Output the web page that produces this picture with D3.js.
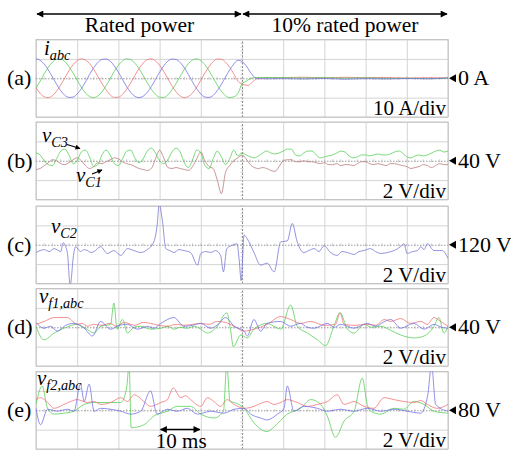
<!DOCTYPE html>
<html>
<head>
<meta charset="utf-8">
<script src="https://cdn.jsdelivr.net/npm/d3@7"></script>
</head>
<body style="margin:0">
<svg id="chart" width="511" height="452" style="font-family: 'Liberation Serif', serif"></svg>
<script>
// time axis: 10 ms/div, 10 divisions; load step at 50 ms
const gridTimes = [0, 10, 20, 30, 40, 50, 60, 70, 80, 90, 100];
const sampleTimes = d3.range(0, 101);       // 1 ms samples used by panel (b)
const ratedTimes = d3.range(0, 51);         // 1 ms samples for the rated-power currents

// (a) grid currents, A (rated part every 1 ms, then reduced-power part as [ms, A])
const iaRated = [10,9.3,7.3,4.3,0.6,-3.1,-6.4,-8.8,-9.9,-9.7,-8.1,-5.4,-1.9,1.9,5.4,8.1,9.7,9.9,8.8,6.4,3.1,-0.6,-4.3,-7.3,-9.3,-10,
  -9.3,-7.3,-4.3,-0.6,3.1,6.4,8.8,9.9,9.7,8.1,5.4,1.9,-1.9,-5.4,-8.1,-9.7,-9.9,-8.8,-6.4,-3.1,0.6,4.3,7.3,9.3,8.6];
const ibRated = [-5,-7.8,-9.6,-10,-9,-6.7,-3.5,0.2,3.9,7,9.1,10,9.4,7.6,4.6,1,-2.7,-6,-8.6,-9.9,-9.8,-8.3,-5.7,-2.3,1.5,5,
  7.8,9.6,10,9,6.7,3.5,-0.2,-3.9,-7,-9.1,-10,-9.4,-7.6,-4.6,-1,2.7,6,8.6,9.9,9.8,8.3,5.7,2.3,-1.5,-3];
const icRated = [-5,-1.5,2.3,5.7,8.3,9.8,9.9,8.6,6,2.7,-1,-4.6,-7.6,-9.4,-10,-9.1,-7,-3.9,-0.2,3.5,6.7,9,10,9.6,7.8,5,
  1.5,-2.3,-5.7,-8.3,-9.8,-9.9,-8.6,-6,-2.7,1,4.6,7.6,9.4,10,9.1,7,3.9,0.2,-3.5,-6.7,-9,-10,-9.6,-7.8,-3];
const iaLight = [[51,6.5],[52,3.2],[53,0.6],[54,-0.2],[56,-0.3],[60,-0.2],[65,-0.4],[70,-0.1],[75,-0.5],[80,-0.2],[85,-0.4],[90,-0.1],[95,-0.3],[100,0.2]];
const ibLight = [[51,-3.6],[51.5,-3.7],[52.5,-2],[53.5,-0.4],[55,0.2],[60,0.3],[65,0.5],[70,0.2],[75,0.5],[80,0.3],[85,0.4],[90,0.1],[95,0.3],[100,0.2]];
const icLight = [[51,-1.5],[52,-0.2],[53,0.3],[55,0.4],[60,0.3],[65,0.1],[70,0.3],[75,0],[80,0.2],[85,-0.1],[90,0],[95,-0.2],[100,0]];

// (b) capacitor voltage ripple around 40 V, V (every 1 ms)
const vC3 = [0.8,0.6,0,-0.4,-0.5,0.2,1,1.2,0.6,-0.3,0,0.9,1.1,0.4,-0.6,-0.4,0.6,1.1,0.6,-0.3,-0.5,0.2,1,1.1,0.3,-0.2,0.2,1,1.3,0.8,
  0,-0.3,0.1,0.9,1.3,0.9,-0.2,-0.7,0.1,1.1,0.8,-0.5,-0.8,0.2,1,0.4,-0.4,0.2,1.1,0.5,0.8,
  0.6,0.4,0.3,0.5,0.8,1,0.8,0.7,0.8,1,1.2,1.2,0.6,0.5,0.8,1,1,0.6,0.3,0.4,0.5,0.6,0.8,1,0.9,
  0.5,0.3,0.4,0.6,0.6,0.5,0.6,0.7,0.6,0.6,0.7,0.9,1,0.8,0.4,0.3,0.5,0.6,0.5,0.6,0.8,1,1.1,0.9,1];
const vC1 = [-0.9,-0.8,-0.5,-0.2,0.1,0,-0.3,-0.4,-0.2,0.1,0.3,0,-0.5,-0.8,-0.6,-0.2,-0.3,-0.1,0.1,0.3,
  0.2,-0.1,-0.3,-0.4,-0.6,-0.8,-0.9,-1,-0.8,0.2,1.1,0.3,-0.7,-0.8,-0.7,-0.8,-0.9,-1,-0.6,0.2,
  0.9,0,-0.6,-0.8,-2,-3.4,-1.2,-0.5,0,0.3,0.6,
  0.2,-0.4,-0.7,-0.8,-0.7,-0.8,-1,-1.1,-0.6,0,0.1,0.1,-0.1,-0.1,0,-0.1,-0.1,-0.2,-0.3,-0.2,
  -0.4,-0.4,-0.3,-0.5,-0.4,-0.4,-0.5,-0.3,-0.1,-0.1,-0.3,-0.4,-0.3,-0.4,-0.5,-0.3,-0.3,-0.4,-0.5,-0.6,
  -0.8,-0.7,-0.6,-0.4,-0.5,-0.7,-0.5,-0.3,-0.4,-0.4];

// (c) vC2 ripple around 120 V, [ms, V]
const vC2 = [[0,-0.8],[1,-0.6],[2,-0.5],[3.2,-0.7],[4.4,-0.4],[6,-0.7],[6.6,0.2],[7.6,-0.8],[8.3,-4.2],[9.1,-1.1],[9.6,-0.2],
  [10.8,-0.7],[11.7,-0.5],[12.5,-0.6],[13.3,-0.8],[14.1,-0.7],[15.7,-0.2],[17.3,-0.9],[18.9,-0.6],[20.6,-1.1],[22.2,-0.4],
  [23.8,-0.6],[25.4,-0.8],[27,-0.5],[28.6,0.3],[29.4,2],[29.9,4.2],[30.7,2.4],[31.5,-0.4],[32.5,-0.6],[33.5,-0.8],[34.7,-0.5],
  [35.9,-0.6],[37.5,-0.8],[39.2,-2.1],[40,-0.9],[41.2,-0.7],[42.4,-0.8],[43.6,-0.6],[44.8,-1.1],[45.5,-2.8],[46.3,-0.4],
  [48,0],[48.8,0.1],[49.3,-1.5],[49.8,-3.7],[50.5,1],[51.3,0.6],[52.9,-0.8],[54.5,-2.1],[56.1,-1.9],[57.8,-2.8],[59.4,0.3],
  [61,0.4],[62.2,2.2],[63.4,0.3],[65,-0.8],[66.2,-0.6],[67.5,-0.4],[68.7,-0.7],[69.9,-0.1],[71.5,-0.8],[73.1,-1.1],
  [74.3,-0.7],[75.6,-0.8],[77.2,-1],[78.4,-0.7],[79.6,-0.6],[81.2,-0.4],[82.4,-0.7],[83.7,-0.9],[85.3,-0.8],[86.9,-0.6],
  [88.5,-0.2],[89.3,0.1],[90.1,-0.9],[91.4,-0.7],[92.6,-0.6],[93.4,-0.2],[94.2,-0.5],[95,0.1],[96.6,-0.6],[98.6,-0.6],[100,-1.4]];

// (d) filter-1 voltages around 40 V, [ms, V]
const vf1a = [[0,0.3],[2,0.6],[4.4,1],[7.6,1],[10,0.3],[11.2,0.4],[12.5,0.1],[14,0.3],[15.7,0.2],[18,0.4],[19.5,0.1],[21.4,0.5],
  [24,0.2],[26,0.5],[27.8,0.4],[29.8,0.2],[31.9,0.1],[34,0.3],[35.9,0.2],[38,0.3],[40,0.4],[42,0.3],[44,0.6],[46,0.5],
  [48.1,0.1],[50.5,-0.4],[52.9,-0.2],[56.1,0.3],[59.4,1.1],[61.8,0.8],[64.2,0.4],[66.7,0.6],[69.9,0.2],[72.7,0.3],[73.8,1.5],
  [74.8,0.3],[77.2,0.2],[80.4,0.3],[82.5,0.2],[84.5,0.8],[86.1,0.6],[88.5,0.9],[90.9,0.4],[93.4,0.6],[95,0.3],[96.6,1],
  [98.2,0.6],[100,0.1]];
const vf1b = [[0,0.1],[1.9,-1.3],[4.4,-0.6],[6.8,-0.1],[10,0.3],[12,-0.1],[14.1,-0.6],[15.7,0.1],[18.1,0.3],[18.9,2.5],[19.7,-0.2],
  [21,0.8],[22.2,-0.6],[23.8,0],[25.4,0.1],[27.8,-0.2],[30.3,-0.1],[32,0.1],[33.5,-0.2],[35,0],[36.7,-0.1],[38.4,0.1],[40,-0.2],
  [41.6,-0.6],[44,0.1],[46.3,1.5],[47.2,-0.2],[47.9,-2],[49.7,-0.8],[51.3,-1.1],[52.9,-0.2],[56.1,0.4],[59.4,-0.2],[61.8,2.3],
  [63.4,0.1],[65.9,-0.6],[68.3,-1.3],[70.3,-1.9],[72.3,0.1],[73.8,1.5],[75.6,-0.2],[77.2,-0.6],[79.6,0.3],[81.5,0],[83.7,0.1],
  [86,-0.3],[88.5,-0.8],[91.7,-1.1],[94.2,-0.9],[96.6,0.1],[97.8,1],[99,-0.6],[100,0.1]];
const vf1c = [[0,0.5],[1.9,-0.1],[3.5,0.1],[5.2,-0.4],[7.2,0.2],[9.2,0.4],[11.7,-0.1],[13.7,-0.9],[15.7,0.6],[18.1,-0.2],
  [20.2,0.2],[22.2,0.3],[24.6,-0.2],[27,0.1],[28.6,-0.1],[30.3,0.4],[33.5,1],[35.9,0.1],[38,0.2],[40,0.4],[42.4,-0.1],
  [44.2,0.3],[46,1],[48.1,0.1],[50.5,-0.4],[51.3,-0.9],[52.9,0.8],[54.5,-0.4],[56.1,0.4],[59.4,0.6],[61.8,0.1],[64.2,0.4],
  [65.8,0],[67.5,-0.1],[70.7,0.4],[72.4,0],[73.9,0.3],[77.2,-0.1],[80.4,0.4],[82.5,0.1],[84.2,0.5],[86.1,0.8],[88.5,-0.1],
  [91.7,0.4],[94.2,-0.2],[96.6,0.3],[98.4,0],[100,-0.1]];

// (e) filter-2 voltages around 80 V, [ms, V]
const vf2a = [[0,1.1],[1.1,1.3],[2.8,0.8],[4.4,0.2],[6.8,0.6],[8.4,0.9],[10,1.1],[12.5,0.8],[14.1,0.9],[15.7,0.6],[18.1,0.8],
  [20.6,1.3],[22.2,0.9],[23.8,1.6],[26.2,0.9],[27.8,0.4],[30.3,0.8],[31.9,1.1],[33.3,2.3],[35.1,1.3],[36.3,1.5],[37.5,1.1],
  [40,0.4],[41.6,1.3],[43.2,0.9],[44.8,0.4],[46.4,1.1],[48.1,0.6],[50.5,0.2],[52.9,0.4],[54.5,0.7],[56.1,0.9],[57.8,0.6],
  [59.4,0.8],[61,1.1],[63.4,0.8],[65.9,0.4],[68.3,0.6],[70.7,0.9],[73.1,1.6],[74.8,0.6],[77.2,0.9],[79.6,0.4],[82,0.2],
  [84.5,1.3],[86.9,1.1],[89.3,0.9],[91.7,0.8],[93.4,1],[95,0.6],[97.4,0.2],[100,0.6]];
const vf2b = [[0,0.6],[1.5,2.5],[2.8,0.2],[4.4,-0.4],[6.8,-0.3],[9.2,-0.1],[11.7,0.6],[14.1,0.8],[17.3,0.8],[20.6,0.8],[22,2.3],
  [22.6,4.7],[23.1,-1.8],[26.2,-1.5],[28.6,-0.6],[31.9,-0.1],[34.3,0.4],[37.5,0.4],[40,-0.4],[43.2,-0.8],[45.5,-0.1],
  [46.3,4.7],[47.1,0.9],[48.1,0.8],[50.5,0.2],[52.9,-1.3],[56.1,-2.2],[57.8,-1.7],[61,-0.4],[64.2,0.2],[66.7,1.1],[69.1,0.6],
  [70.7,-0.6],[72.7,-2.8],[74.8,-1.1],[77.2,-0.1],[79.2,3.3],[80.4,0.6],[81.2,-0.1],[83.7,-0.4],[86.9,0.2],[89.3,0.1],
  [91.7,0.9],[94.2,0.6],[96.6,-0.1],[100,-0.3]];
const vf2c = [[0,0.2],[1.1,-1.5],[2.8,0.1],[5.2,-0.1],[7.6,0.1],[9.2,-0.1],[10.8,2.7],[11.7,0.9],[12.9,2.7],[14.1,-0.1],
  [15.7,0.2],[18.1,0.1],[20.6,-0.1],[23,-0.4],[25.4,-0.1],[27.8,2],[29.4,-0.4],[31.9,0.1],[34.3,-0.1],[36.7,0.2],[39.2,-0.4],
  [42.4,-0.1],[45.6,-0.3],[48.1,0.1],[50.5,0.2],[52.1,-0.4],[54.5,-0.8],[56.1,-1],[58.6,-0.4],[60.2,0.2],[61,2.5],[62.6,-0.1],
  [65,0.4],[68.3,0.2],[70.7,-0.1],[73.9,0.1],[77.2,-0.1],[80.4,0.2],[83.7,-0.1],[86.9,0.1],[90.1,-0.1],[93.4,-0.3],[95.1,1.6],
  [96,4.7],[97,0.6],[100,-0.1]];

const RED = '#f07070', GREEN = '#52cf52', BLUE = '#6e6ee6';
const SERIF = "'Liberation Serif', serif";

const panels = [
  { letter: '(a)', perDiv: 10, ref: '0 A', scale: '10 A/div', traces: [
      { color: RED, data: ibRated.map((v, i) => [ratedTimes[i], v]).concat(ibLight) },
      { color: GREEN, data: icRated.map((v, i) => [ratedTimes[i], v]).concat(icLight) },
      { color: BLUE, data: iaRated.map((v, i) => [ratedTimes[i], v]).concat(iaLight) } ] },
  { letter: '(b)', perDiv: 2, ref: '40 V', scale: '2 V/div', traces: [
      { color: '#b87878', data: vC1.map((v, i) => [sampleTimes[i], v]) },
      { color: GREEN, data: vC3.map((v, i) => [sampleTimes[i], v]) } ] },
  { letter: '(c)', perDiv: 2, ref: '120 V', scale: '2 V/div', traces: [
      { color: '#7272d2', data: vC2 } ] },
  { letter: '(d)', perDiv: 2, ref: '40 V', scale: '2 V/div', traces: [
      { color: GREEN, data: vf1b }, { color: RED, data: vf1a }, { color: BLUE, data: vf1c } ] },
  { letter: '(e)', perDiv: 2, ref: '80 V', scale: '2 V/div', traces: [
      { color: GREEN, data: vf2b }, { color: RED, data: vf2a }, { color: BLUE, data: vf2c } ] }
];

const svg = d3.select('#chart');
const x = d3.scaleLinear().domain([0, 100]).range([36, 448]);
const panelTop = [39.5, 122, 206, 288.5, 371.5];
const panelH = 77.5;

const defs = svg.append('defs');
defs.append('marker').attr('id', 'head').attr('viewBox', '0 0 10 10')
  .attr('refX', 9).attr('refY', 5).attr('markerWidth', 9).attr('markerHeight', 7)
  .attr('markerUnits', 'userSpaceOnUse').attr('orient', 'auto-start-reverse')
  .append('path').attr('d', 'M0,0 L10,5 L0,10 z').attr('fill', '#000');
defs.append('marker').attr('id', 'small').attr('viewBox', '0 0 10 10')
  .attr('refX', 9).attr('refY', 5).attr('markerWidth', 7).attr('markerHeight', 5)
  .attr('markerUnits', 'userSpaceOnUse').attr('orient', 'auto')
  .append('path').attr('d', 'M0,0 L10,5 L0,10 z').attr('fill', '#000');

function arrow(x1, y1, x2, y2, both, w) {
  const l = svg.append('line').attr('x1', x1).attr('y1', y1).attr('x2', x2).attr('y2', y2)
    .attr('stroke', '#000').attr('stroke-width', w);
  if (both) l.attr('marker-start', 'url(#head)').attr('marker-end', 'url(#head)');
  else l.attr('marker-end', 'url(#small)');
}

function txt(px, py, s, size, anchor) {
  return svg.append('text').attr('x', px).attr('y', py).attr('font-size', size)
    .attr('text-anchor', anchor || 'start').style('font-family', SERIF).text(s);
}

// header
arrow(x(0) + 1, 14, x(50) - 1, 14, true, 1.6);
arrow(x(50) + 1, 14, x(100) - 1, 14, true, 1.6);
txt((x(0) + x(50)) / 2 + 0.5, 32, 'Rated power', 21.5, 'middle');
txt((x(50) + x(100)) / 2, 32, '10% rated power', 21.5, 'middle');

panels.forEach((p, k) => {
  const top = panelTop[k];
  const y = d3.scaleLinear().domain([-2 * p.perDiv, 2 * p.perDiv]).range([top + panelH, top]);
  const g = svg.append('g');

  defs.append('clipPath').attr('id', 'clip' + k).append('rect')
    .attr('x', x(0)).attr('y', top).attr('width', x(100) - x(0)).attr('height', panelH);

  // grid through axes
  const vg = g.append('g').attr('transform', `translate(0,${top + panelH})`)
    .call(d3.axisBottom(x).tickValues(gridTimes).tickSize(-panelH).tickFormat(''));
  const hg = g.append('g').attr('transform', `translate(${x(0)},0)`)
    .call(d3.axisLeft(y).tickValues([-2, -1, 0, 1, 2].map(d => d * p.perDiv))
      .tickSize(-(x(100) - x(0))).tickFormat(''));
  [vg, hg].forEach(a => {
    a.select('.domain').remove();
    a.selectAll('line').attr('stroke', '#d4d4d4').attr('stroke-width', 1);
  });
  vg.selectAll('.tick').filter(d => d === 50).select('line')
    .attr('stroke', '#8a8a8a').attr('stroke-dasharray', '2,1.5');
  hg.selectAll('.tick').filter(d => d === 0).select('line')
    .attr('stroke', '#9a9a9a').attr('stroke-dasharray', '1.5,1.5');
  // minor ticks on the centre lines
  g.append('g').selectAll('line').data(d3.range(0, 100.1, 2)).join('line')
    .attr('x1', d => x(d)).attr('x2', d => x(d))
    .attr('y1', y(0) - 1.5).attr('y2', y(0) + 1.5).attr('stroke', '#b0b0b0').attr('stroke-width', 0.6);
  g.append('g').selectAll('line').data(d3.range(-2, 2.01, 0.2).map(d => d * p.perDiv)).join('line')
    .attr('x1', x(50) - 1.5).attr('x2', x(50) + 1.5)
    .attr('y1', d => y(d)).attr('y2', d => y(d)).attr('stroke', '#b0b0b0').attr('stroke-width', 0.6);
  g.append('rect').attr('x', x(0)).attr('y', top).attr('width', x(100) - x(0)).attr('height', panelH)
    .attr('fill', 'none').attr('stroke', '#c4c4c4').attr('stroke-width', 1);

  const line = d3.line().x(d => x(d[0])).y(d => y(d[1])).curve(d3.curveMonotoneX);
  g.append('g').attr('clip-path', `url(#clip${k})`).selectAll('path').data(p.traces).join('path')
    .attr('d', d => line(d.data)).attr('fill', 'none')
    .attr('stroke', d => d.color).attr('stroke-width', 0.9).attr('stroke-opacity', 0.85);

  // labels
  txt(7, y(0) + 7, p.letter, 22);
  svg.append('path').attr('d', `M${x(100) + 1},${y(0)} l7,-4 v8 z`).attr('fill', '#000');
  txt(458, y(0) + 7, p.ref, 22);
  txt(446, top + panelH - 2, p.scale, 21, 'end');
});

function addLabel(px, py, main, sub, size) {
  const t = txt(px, py, '', size).style('font-style', 'italic');
  t.append('tspan').text(main);
  t.append('tspan').attr('dy', size * 0.22).attr('font-size', size * 0.68).text(sub);
}
addLabel(44, 55, 'i', 'abc', 21);
addLabel(42, 142, 'v', 'C3', 21);
addLabel(76, 182, 'v', 'C1', 21);
addLabel(51, 233, 'v', 'C2', 21);
addLabel(39, 303, 'v', 'f1,abc', 21);
addLabel(37, 385, 'v', 'f2,abc', 21);
arrow(67, 144.5, 80, 148.5, false, 1.2);
arrow(92, 174, 102, 170, false, 1.2);

// 10 ms scale arrow
arrow(x(30) + 1, 429.5, x(40) - 1, 429.5, true, 1.6);
txt((x(30) + x(40)) / 2 + 1, 448, '10 ms', 21, 'middle');
</script>
</body>
</html>
